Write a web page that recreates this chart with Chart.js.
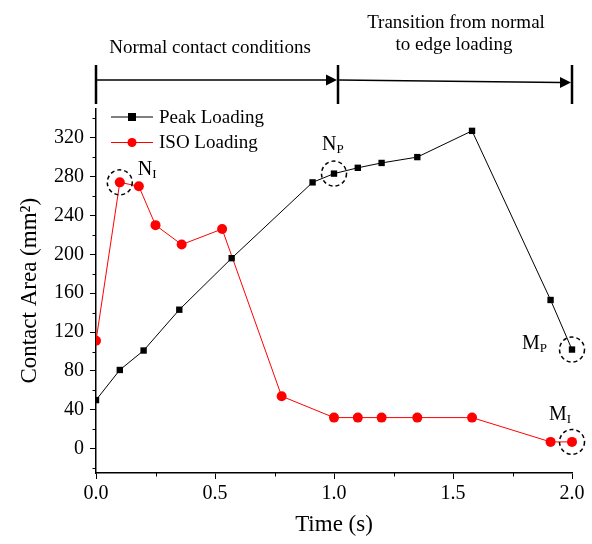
<!DOCTYPE html>
<html>
<head>
<meta charset="utf-8">
<script src="https://cdn.jsdelivr.net/npm/chart.js@4.4.1/dist/chart.umd.min.js"></script>
<style>
  html, body { margin: 0; padding: 0; background: #fff; }
  #wrap { width: 592px; height: 544px; position: relative; }
</style>
</head>
<body>
<div id="wrap"><canvas id="areaChart"></canvas></div>
<script>
// values
const peakTime = [0, 0.1, 0.2, 0.35, 0.57, 0.91, 1.0, 1.1, 1.2, 1.35, 1.58, 1.91, 2.0];
const peakArea = [50, 81, 101, 143, 196, 274, 283, 289, 294, 300, 327, 153, 102];
const isoTime = [0, 0.1, 0.18, 0.25, 0.36, 0.53, 0.78, 1.0, 1.1, 1.2, 1.35, 1.58, 1.91, 2.0];
const isoArea = [111, 274, 270, 230, 210, 226, 54, 32, 32, 32, 32, 32, 7, 7];
const xTicks = [0, 0.5, 1.0, 1.5, 2.0];
const xMinorTicks = [0.25, 0.75, 1.25, 1.75];
const yTicks = [0, 40, 80, 120, 160, 200, 240, 280, 320];
const yMinorTicks = [-20, 20, 60, 100, 140, 180, 220, 260, 300, 340];

// marked points: [dataset index, point index, letter, subscript, dx, dy]
const markers = [
    [1, 1, 'N', 'I', 18, -7],
    [0, 6, 'N', 'P', -12, -24],
    [0, 12, 'M', 'P', -50, -1],
    [1, 13, 'M', 'I', -23, -22]
];
// phase ranges on the time axis
const phaseBounds = [0, 1.0, 2.0];

const FONT = '"Liberation Serif", "Times New Roman", serif';

function toPoints(xs, ys) {
    return xs.map((x, i) => ({ x: x, y: ys[i] }));
}

const extras = {
    id: 'extras',
    afterDatasetsDraw(chart) {
        const ctx = chart.ctx;
        const xs = chart.scales.x;
        const ys = chart.scales.y;
        const area = chart.chartArea;
        ctx.save();

        // minor ticks
        ctx.strokeStyle = '#000';
        ctx.lineWidth = 1;
        ctx.beginPath();
        yMinorTicks.forEach(v => {
            const py = Math.round(ys.getPixelForValue(v)) + 0.5;
            ctx.moveTo(area.left - 3.5, py);
            ctx.lineTo(area.left, py);
        });
        xMinorTicks.forEach(v => {
            const px = Math.round(xs.getPixelForValue(v)) + 0.5;
            ctx.moveTo(px, area.bottom);
            ctx.lineTo(px, area.bottom + 3.5);
        });
        ctx.stroke();

        // legend
        chart.data.datasets.forEach((ds, i) => {
            const y = 117 + i * 25.5;
            ctx.strokeStyle = ds.borderColor;
            ctx.lineWidth = 1;
            ctx.beginPath();
            ctx.moveTo(111, y);
            ctx.lineTo(153, y);
            ctx.stroke();
            ctx.fillStyle = ds.pointBackgroundColor;
            if (ds.pointStyle === 'rect') {
                ctx.fillRect(132 - 4, y - 4, 8, 8);
            } else {
                ctx.beginPath();
                ctx.arc(132, y, 4.5, 0, Math.PI * 2);
                ctx.fill();
            }
            ctx.fillStyle = '#000';
            ctx.font = '19px ' + FONT;
            ctx.textBaseline = 'middle';
            ctx.textAlign = 'left';
            ctx.fillText(ds.label, 159, y + 1);
        });

        // dashed circles and labels
        markers.forEach(([d, p, letter, sub, dx, dy]) => {
            const el = chart.getDatasetMeta(d).data[p];
            ctx.strokeStyle = '#000';
            ctx.lineWidth = 1.5;
            ctx.setLineDash([4, 3]);
            ctx.beginPath();
            ctx.arc(el.x, el.y, 12.5, 0, Math.PI * 2);
            ctx.stroke();
            ctx.setLineDash([]);
            ctx.fillStyle = '#000';
            ctx.textAlign = 'left';
            ctx.textBaseline = 'alphabetic';
            ctx.font = '20px ' + FONT;
            const lx = el.x + dx;
            const ly = el.y + dy;
            ctx.fillText(letter, lx, ly);
            const w = ctx.measureText(letter).width;
            ctx.font = '13px ' + FONT;
            ctx.fillText(sub, lx + w, ly + 3);
        });

        // phase arrows above the plot
        const bx = phaseBounds.map(v => xs.getPixelForValue(v));
        bx[1] += 4;
        ctx.strokeStyle = '#000';
        ctx.lineWidth = 2.5;
        ctx.beginPath();
        bx.forEach(px => {
            ctx.moveTo(px, 65);
            ctx.lineTo(px, 104);
        });
        ctx.stroke();

        function arrow(x0, y0, x1, y1) {
            ctx.lineWidth = 1.5;
            ctx.beginPath();
            ctx.moveTo(x0, y0);
            ctx.lineTo(x1 - 10, y1);
            ctx.stroke();
            ctx.beginPath();
            ctx.moveTo(x1, y1);
            ctx.lineTo(x1 - 11, y1 - 5.5);
            ctx.lineTo(x1 - 11, y1 + 5.5);
            ctx.closePath();
            ctx.fill();
        }
        arrow(bx[0] + 1, 80, bx[1] - 1, 80);
        arrow(bx[1] + 1, 80, bx[2] - 1, 82.5);

        ctx.fillStyle = '#000';
        ctx.font = '19px ' + FONT;
        ctx.textAlign = 'center';
        ctx.textBaseline = 'alphabetic';
        ctx.fillText('Normal contact conditions', (bx[0] + bx[1]) / 2 - 7, 52.5);
        ctx.fillText('Transition from normal', 456, 27.5);
        ctx.fillText('to edge loading', 454, 50);

        ctx.restore();
    }
};

document.addEventListener('DOMContentLoaded', function () {
    const ctx = document.getElementById('areaChart').getContext('2d');

    new Chart(ctx, {
        type: 'line',
        data: {
            datasets: [{
                label: 'Peak Loading',
                data: toPoints(peakTime, peakArea),
                borderColor: '#000',
                backgroundColor: '#000',
                pointBackgroundColor: '#000',
                pointBorderColor: '#000',
                pointStyle: 'rect',
                pointRadius: 4.5,
                borderWidth: 1,
                pointBorderWidth: 0,
                clip: { left: 0, top: false, right: false, bottom: false }
            }, {
                label: 'ISO Loading',
                data: toPoints(isoTime, isoArea),
                borderColor: '#ff0000',
                backgroundColor: '#ff0000',
                pointBackgroundColor: '#ff0000',
                pointBorderColor: '#ff0000',
                pointStyle: 'circle',
                pointRadius: 5,
                borderWidth: 1,
                pointBorderWidth: 0,
                clip: { left: 0, top: false, right: false, bottom: false }
            }]
        },
        options: {
            responsive: true,
            maintainAspectRatio: false,
            animation: false,
            events: [],
            layout: {
                padding: { top: 108.5, right: 20, left: 0, bottom: 0 }
            },
            plugins: {
                legend: { display: false },
                tooltip: { enabled: false }
            },
            scales: {
                x: {
                    type: 'linear',
                    min: 0,
                    max: 2.0,
                    afterFit: axis => { axis.height = 71; },
                    afterBuildTicks: axis => { axis.ticks = xTicks.map(v => ({ value: v })); },
                    border: { display: true, color: '#000', width: 1.5 },
                    grid: { drawOnChartArea: false, drawTicks: true, tickLength: 6, color: '#000', lineWidth: 1 },
                    ticks: {
                        color: '#000',
                        padding: 3,
                        maxRotation: 0,
                        font: { family: FONT, size: 20 },
                        callback: v => v.toFixed(1)
                    },
                    title: {
                        display: true,
                        text: 'Time (s)',
                        color: '#000',
                        font: { family: FONT, size: 23 },
                        padding: { top: 0, bottom: 5 }
                    }
                },
                y: {
                    min: -25,
                    max: 350,
                    afterFit: axis => { axis.width = 96; },
                    afterBuildTicks: axis => { axis.ticks = yTicks.map(v => ({ value: v })); },
                    border: { display: true, color: '#000', width: 1.5 },
                    grid: { drawOnChartArea: false, drawTicks: true, tickLength: 6, color: '#000', lineWidth: 1 },
                    ticks: {
                        color: '#000',
                        padding: 6,
                        font: { family: FONT, size: 20 }
                    },
                    title: {
                        display: true,
                        text: 'Contact Area (mm²)',
                        color: '#000',
                        font: { family: FONT, size: 23 },
                        padding: { top: 16, bottom: 0 }
                    }
                }
            }
        },
        plugins: [extras]
    });
});
</script>
</body>
</html>
